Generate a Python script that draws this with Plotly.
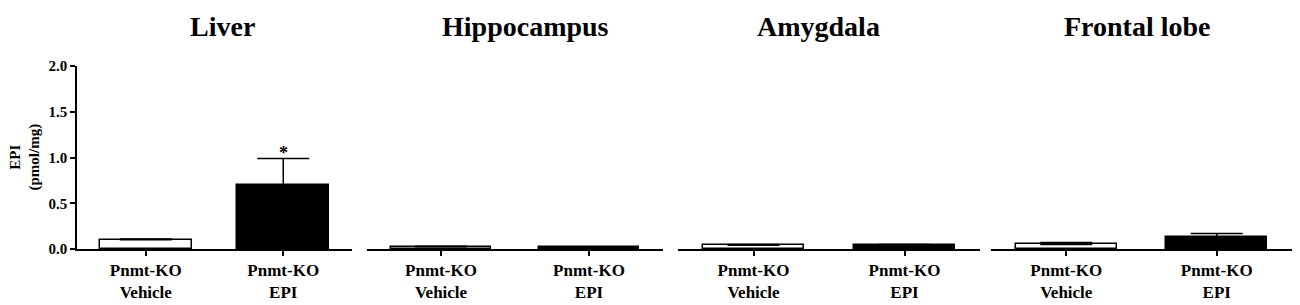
import plotly.graph_objects as go

regions = ["Liver", "Hippocampus", "Amygdala", "Frontal lobe"]
groups = ["Pnmt-KO<br>Vehicle", "Pnmt-KO<br>EPI"]
vehicle_mean = [0.10, 0.025, 0.04, 0.05]
vehicle_err = [0.01, 0.005, 0.01, 0.02]
epi_mean = [0.70, 0.02, 0.04, 0.135]
epi_err = [0.29, 0.005, 0.008, 0.035]
y_ticks = [0.0, 0.5, 1.0, 1.5, 2.0]
y_tick_text = ["0.0", "0.5", "1.0", "1.5", "2.0"]

W = 1300
domains_px = [(69, 344), (359, 655), (670, 972), (983, 1284)]
title_px = [214, 517, 810, 1129]

FONT = "Liberation Serif"
fig = go.Figure()
for i in range(4):
    xa = "x" if i == 0 else f"x{i+1}"
    ya = "y" if i == 0 else f"y{i+1}"
    fig.add_trace(go.Bar(
        x=[0, 1], y=[vehicle_mean[i], epi_mean[i]],
        width=0.67, xaxis=xa, yaxis=ya,
        marker=dict(color=["white", "black"], line=dict(color="black", width=1.5)),
        error_y=dict(type="data", array=[vehicle_err[i], epi_err[i]],
                     arrayminus=[0, 0], symmetric=False,
                     color="black", thickness=1.5, width=26),
        showlegend=False,
    ))
    d = domains_px[i]
    xkey = "xaxis" if i == 0 else f"xaxis{i+1}"
    ykey = "yaxis" if i == 0 else f"yaxis{i+1}"
    fig.layout[xkey] = dict(
        domain=[d[0] / W, d[1] / W], range=[-0.5, 1.5],
        tickmode="array", tickvals=[0, 1], ticktext=groups,
        ticks="outside", ticklen=5, tickwidth=1.5, tickcolor="black",
        showline=True, linecolor="black", linewidth=1.5,
        showgrid=False, zeroline=False, automargin=False,
        tickfont=dict(family=FONT, size=17, color="black", weight="bold"),
        anchor=ya, fixedrange=True,
    )
    fig.layout[ykey] = dict(
        range=[0, 2.0], domain=[0, 1], anchor=xa,
        tickmode="array", tickvals=y_ticks, ticktext=y_tick_text,
        ticks="outside" if i == 0 else "", ticklen=5, tickwidth=1.5, tickcolor="black",
        showline=(i == 0), linecolor="black", linewidth=1.5,
        showticklabels=(i == 0), showgrid=False, zeroline=False, automargin=False,
        tickfont=dict(family=FONT, size=15, color="black", weight="bold"),
        fixedrange=True,
    )
    fig.add_annotation(
        x=title_px[i] / W, y=1, xref="paper", yref="paper",
        yanchor="top", yshift=57, xanchor="center",
        text=regions[i], showarrow=False,
        font=dict(family=FONT, size=28, color="black", weight="bold"),
    )

fig.add_annotation(
    x=1, y=epi_mean[0] + epi_err[0], xref="x", yref="y",
    yanchor="bottom", yshift=-7, text="*", showarrow=False,
    font=dict(family=FONT, size=18, color="black", weight="bold"),
)
fig.add_annotation(
    x=17 / W, y=0.5, xref="paper", yref="paper",
    xanchor="center", yanchor="middle", textangle=-90,
    text="EPI<br>(pmol/mg)", showarrow=False,
    font=dict(family=FONT, size=15, color="black", weight="bold"),
)

fig.update_layout(
    width=1300, height=305,
    margin=dict(l=0, r=0, t=58, b=64),
    plot_bgcolor="white", paper_bgcolor="white",
    bargap=0,
)
fig.write_html("out.html")
